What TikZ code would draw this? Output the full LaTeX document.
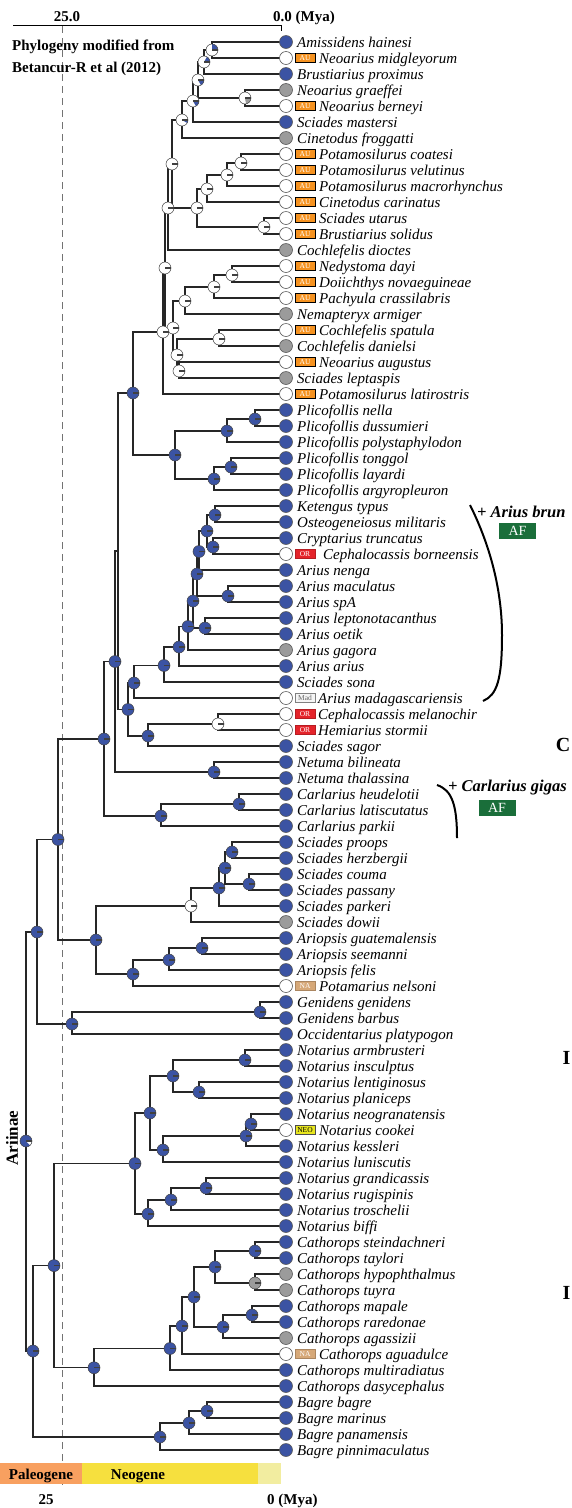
\documentclass[tikz,border=0pt]{standalone}
\usepackage{fontspec}
\setmainfont{Liberation Serif}
\pgfdeclarelayer{bg}
\pgfsetlayers{bg,main}
\definecolor{nblue}{RGB}{59,83,163}
\definecolor{ngrey}{RGB}{155,155,155}
\definecolor{auorange}{RGB}{245,146,32}
\definecolor{orred}{RGB}{228,35,42}
\definecolor{natan}{RGB}{214,168,120}
\definecolor{neoyel}{RGB}{232,230,30}
\definecolor{afgreen}{RGB}{26,110,58}
\definecolor{paleo}{RGB}{248,160,96}
\definecolor{neog}{RGB}{246,224,62}
\definecolor{quat}{RGB}{242,237,160}
\tikzset{
  branch/.style={line width=1.2pt, black!85},
  tipc/.style={circle, draw=black!65, line width=0.6pt, minimum size=13pt, inner sep=0pt},
  lab/.style={anchor=base west, inner sep=0pt, font=\fontsize{15}{15}\selectfont\itshape},
  inb/.style={circle, draw=black!75, line width=0.5pt, minimum size=12pt, inner sep=0pt},
  radline/.style={path picture={\draw[line width=1.1pt] (path picture bounding box.center) -- ++(6pt,0pt);}},
  iB/.style={inb, fill=nblue, radline},
  iW/.style={inb, fill=white, radline},
  iG/.style={inb, fill=ngrey, radline},
  pieW/.style n args={4}{inb, fill=#1, path picture={\fill[#2] (path picture bounding box.center) -- ++(#3:7pt) arc[start angle=#3, end angle=#4, radius=7pt] -- cycle; \draw[line width=1.1pt] (path picture bounding box.center) -- ++(6pt,0pt);}},
  tagb/.style={rectangle, minimum width=20pt, minimum height=9pt, inner sep=0pt, line width=0.5pt, font=\fontsize{7.5}{7.5}\selectfont},
  tagAU/.style={tagb, fill=auorange, draw=black, text=white},
  tagOR/.style={tagb, fill=orred, draw=orred!80!black, text=white},
  tagMad/.style={tagb, fill=black!4, draw=black!50, text=black!60},
  tagNA/.style={tagb, fill=natan, draw=natan!80!black, text=white},
  tagNEO/.style={tagb, fill=neoyel, draw=black!70, text=black},
  boldtxt/.style={inner sep=0pt, font=\bfseries\fontsize{15}{15}\selectfont},
  afbox/.style={rectangle, fill=afgreen, text=white, minimum width=37pt, minimum height=16pt, inner sep=0pt, font=\fontsize{14}{14}\selectfont},
}
\newcommand{\TipP}[3]{%
  \pgfmathsetmacro{\ty}{42+16*(#1-1)}%
  \pgfmathsetmacro{\tyb}{\ty+5}%
  \node[tipc,fill=#2] (t#1) at (286,\ty) {};%
  \node[lab] (l#1) at (297,\tyb) {#3};%
}
\newcommand{\TipT}[6]{%
  \pgfmathsetmacro{\ty}{42+16*(#1-1)}%
  \pgfmathsetmacro{\tyb}{\ty+5}%
  \node[tipc,fill=#2] (t#1) at (286,\ty) {};%
  \node[#3] (g#1) at (305,\ty) {#4};%
  \node[lab] (l#1) at (#5,\tyb) {#6};%
}
\newcommand{\Edge}[3]{\draw[branch] (#1.center) |- (#2.center); \draw[branch] (#1.center) |- (#3.center);}
\begin{document}
\begin{tikzpicture}[x=1pt,y=-1pt]
\useasboundingbox (0,0) rectangle (571,1508);
% ---------- tips ----------
\TipP{1}{nblue}{Amissidens hainesi}
\TipT{2}{white}{tagAU}{AU}{319}{Neoarius midgleyorum}
\TipP{3}{nblue}{Brustiarius proximus}
\TipP{4}{ngrey}{Neoarius graeffei}
\TipT{5}{white}{tagAU}{AU}{319}{Neoarius berneyi}
\TipP{6}{nblue}{Sciades mastersi}
\TipP{7}{ngrey}{Cinetodus froggatti}
\TipT{8}{white}{tagAU}{AU}{319}{Potamosilurus coatesi}
\TipT{9}{white}{tagAU}{AU}{319}{Potamosilurus velutinus}
\TipT{10}{white}{tagAU}{AU}{319}{Potamosilurus macrorhynchus}
\TipT{11}{white}{tagAU}{AU}{319}{Cinetodus carinatus}
\TipT{12}{white}{tagAU}{AU}{319}{Sciades utarus}
\TipT{13}{white}{tagAU}{AU}{319}{Brustiarius solidus}
\TipP{14}{ngrey}{Cochlefelis dioctes}
\TipT{15}{white}{tagAU}{AU}{319}{Nedystoma dayi}
\TipT{16}{white}{tagAU}{AU}{319}{Doiichthys novaeguineae}
\TipT{17}{white}{tagAU}{AU}{319}{Pachyula crassilabris}
\TipP{18}{ngrey}{Nemapteryx armiger}
\TipT{19}{white}{tagAU}{AU}{319}{Cochlefelis spatula}
\TipP{20}{ngrey}{Cochlefelis danielsi}
\TipT{21}{white}{tagAU}{AU}{319}{Neoarius augustus}
\TipP{22}{ngrey}{Sciades leptaspis}
\TipT{23}{white}{tagAU}{AU}{319}{Potamosilurus latirostris}
\TipP{24}{nblue}{Plicofollis nella}
\TipP{25}{nblue}{Plicofollis dussumieri}
\TipP{26}{nblue}{Plicofollis polystaphylodon}
\TipP{27}{nblue}{Plicofollis tonggol}
\TipP{28}{nblue}{Plicofollis layardi}
\TipP{29}{nblue}{Plicofollis argyropleuron}
\TipP{30}{nblue}{Ketengus typus}
\TipP{31}{nblue}{Osteogeneiosus militaris}
\TipP{32}{nblue}{Cryptarius truncatus}
\TipT{33}{white}{tagOR}{OR}{323}{Cephalocassis borneensis}
\TipP{34}{nblue}{Arius nenga}
\TipP{35}{nblue}{Arius maculatus}
\TipP{36}{nblue}{Arius spA}
\TipP{37}{nblue}{Arius leptonotacanthus}
\TipP{38}{nblue}{Arius oetik}
\TipP{39}{ngrey}{Arius gagora}
\TipP{40}{nblue}{Arius arius}
\TipP{41}{nblue}{Sciades sona}
\TipT{42}{white}{tagMad}{Mad}{318}{Arius madagascariensis}
\TipT{43}{white}{tagOR}{OR}{318}{Cephalocassis melanochir}
\TipT{44}{white}{tagOR}{OR}{318}{Hemiarius stormii}
\TipP{45}{nblue}{Sciades sagor}
\TipP{46}{nblue}{Netuma bilineata}
\TipP{47}{nblue}{Netuma thalassina}
\TipP{48}{nblue}{Carlarius heudelotii}
\TipP{49}{nblue}{Carlarius latiscutatus}
\TipP{50}{nblue}{Carlarius parkii}
\TipP{51}{nblue}{Sciades proops}
\TipP{52}{nblue}{Sciades herzbergii}
\TipP{53}{nblue}{Sciades couma}
\TipP{54}{nblue}{Sciades passany}
\TipP{55}{nblue}{Sciades parkeri}
\TipP{56}{ngrey}{Sciades dowii}
\TipP{57}{nblue}{Ariopsis guatemalensis}
\TipP{58}{nblue}{Ariopsis seemanni}
\TipP{59}{nblue}{Ariopsis felis}
\TipT{60}{white}{tagNA}{NA}{319}{Potamarius nelsoni}
\TipP{61}{nblue}{Genidens genidens}
\TipP{62}{nblue}{Genidens barbus}
\TipP{63}{nblue}{Occidentarius platypogon}
\TipP{64}{nblue}{Notarius armbrusteri}
\TipP{65}{nblue}{Notarius insculptus}
\TipP{66}{nblue}{Notarius lentiginosus}
\TipP{67}{nblue}{Notarius planiceps}
\TipP{68}{nblue}{Notarius neogranatensis}
\TipT{69}{white}{tagNEO}{NEO}{319}{Notarius cookei}
\TipP{70}{nblue}{Notarius kessleri}
\TipP{71}{nblue}{Notarius luniscutis}
\TipP{72}{nblue}{Notarius grandicassis}
\TipP{73}{nblue}{Notarius rugispinis}
\TipP{74}{nblue}{Notarius troschelii}
\TipP{75}{nblue}{Notarius biffi}
\TipP{76}{nblue}{Cathorops steindachneri}
\TipP{77}{nblue}{Cathorops taylori}
\TipP{78}{ngrey}{Cathorops hypophthalmus}
\TipP{79}{ngrey}{Cathorops tuyra}
\TipP{80}{nblue}{Cathorops mapale}
\TipP{81}{nblue}{Cathorops raredonae}
\TipP{82}{ngrey}{Cathorops agassizii}
\TipT{83}{white}{tagNA}{NA}{319}{Cathorops aguadulce}
\TipP{84}{nblue}{Cathorops multiradiatus}
\TipP{85}{nblue}{Cathorops dasycephalus}
\TipP{86}{nblue}{Bagre bagre}
\TipP{87}{nblue}{Bagre marinus}
\TipP{88}{nblue}{Bagre panamensis}
\TipP{89}{nblue}{Bagre pinnimaculatus}
% ---------- internal nodes ----------
\node[pieW={white}{nblue}{0}{90}] (a1) at (212,50) {};
\node[pieW={white}{nblue}{0}{60}] (a2) at (204,62) {};
\node[pieW={white}{ngrey}{-80}{0}] (a45) at (245,98) {};
\node[pieW={white}{nblue}{-60}{0}] (a3) at (198,80) {};
\node[pieW={white}{nblue}{-60}{0}] (a4) at (193,101) {};
\node[pieW={white}{nblue}{-30}{0}] (a5) at (182,120) {};
\node[iW] (b1) at (241,163) {};
\node[iW] (b2) at (227,175) {};
\node[iW] (b3) at (207,189) {};
\node[iW] (b4) at (264,227) {};
\node[iW] (b5) at (197,208) {};
\node[iW] (a6) at (172,164) {};
\node[iW] (a7) at (168,208) {};
\node[iW] (c1) at (232,275) {};
\node[iW] (c2) at (214,287) {};
\node[iW] (c3) at (185,301) {};
\node[iW] (c4) at (219,339) {};
\node[iW] (c6) at (179,371) {};
\node[iW] (c5) at (177,355) {};
\node[iW] (cH) at (173,328) {};
\node[iW] (cI) at (165,268) {};
\node[iW] (cJ) at (163,332) {};
\node[iB] (p1) at (255,419) {};
\node[iB] (p2) at (227,431) {};
\node[iB] (p3) at (231,467) {};
\node[iB] (p4) at (214,479) {};
\node[iB] (p5) at (175,455) {};
\node[iB] (K) at (133,393) {};
\node[iB] (r1) at (215,515) {};
\node[iB] (r2) at (213,547) {};
\node[iB] (r3) at (207,531) {};
\node[iB] (r4) at (199,551.5) {};
\node[iB] (r5) at (228,596) {};
\node[iB] (r6) at (197,574) {};
\node[iB] (r7) at (205,628) {};
\node[iB] (r8) at (193,601) {};
\node[iB] (r9) at (188,626.5) {};
\node[iB] (r10) at (179,647) {};
\node[iB] (r11) at (164,665.5) {};
\node[iB] (r12) at (134,683) {};
\node[iW] (r13) at (218,724) {};
\node[iB] (r14) at (148,736) {};
\node[iB] (r15) at (128,709.5) {};
\coordinate (nN) at (118,551);
\node[iB] (nt) at (214,772) {};
\node[iB] (M) at (115,661.5) {};
\node[iB] (k1) at (239,804) {};
\node[iB] (k2) at (161,816) {};
\node[iB] (O) at (104,739) {};
\node[iB] (s1) at (232,852) {};
\node[iB] (s2) at (249,884) {};
\node[iB] (s3) at (225,868) {};
\node[iB] (s4) at (219,888) {};
\node[iW] (s5) at (191,906) {};
\node[iB] (o1) at (202,948) {};
\node[iB] (o2) at (169,960) {};
\node[iB] (o3) at (133,974) {};
\node[iB] (P) at (96,940) {};
\node[iB] (Q) at (58,839.5) {};
\node[iB] (g1) at (260,1012) {};
\node[iB] (g2) at (72,1024) {};
\node[iB] (R) at (37,932) {};
\node[iB] (n1) at (245,1060) {};
\node[iB] (n2) at (199,1092) {};
\node[iB] (n3) at (173,1076) {};
\node[iB] (n4) at (251,1124) {};
\node[iB] (n5) at (246,1136) {};
\node[iB] (n6) at (163,1150) {};
\node[iB] (n7) at (150,1113) {};
\node[iB] (n8) at (206,1188) {};
\node[iB] (n9) at (171,1200) {};
\node[iB] (n10) at (148,1214) {};
\node[iB] (n11) at (135,1163.5) {};
\node[iB] (h1) at (255,1251) {};
\node[iG] (h2) at (255,1283) {};
\node[iB] (h3) at (215,1267) {};
\node[iB] (h4) at (252,1315) {};
\node[iB] (h5) at (223,1327) {};
\node[iB] (h6) at (194,1297) {};
\node[iB] (h7) at (182,1326) {};
\node[iB] (h8) at (170,1348.5) {};
\node[iB] (h9) at (94,1367.75) {};
\node[iB] (U) at (54,1265.6) {};
\node[iB] (bg1) at (207,1411) {};
\node[iB] (bg2) at (189,1423) {};
\node[iB] (bg3) at (160,1437) {};
\node[iB] (T) at (33,1351) {};
\node[pieW={nblue}{white}{-45}{0}] (S) at (26,1141) {};
% ---------- branches ----------
\begin{pgfonlayer}{bg}
\draw[black!55, line width=1pt, dash pattern=on 7pt off 5pt] (62,26) -- (62,1488);
\Edge{a1}{t1}{t2}
\Edge{a2}{a1}{t3}
\Edge{a45}{t4}{t5}
\Edge{a3}{a2}{a45}
\Edge{a4}{a3}{t6}
\Edge{a5}{a4}{t7}
\Edge{b1}{t8}{t9}
\Edge{b2}{b1}{t10}
\Edge{b3}{b2}{t11}
\Edge{b4}{t12}{t13}
\Edge{b5}{b3}{b4}
\Edge{a6}{a5}{b5}
\Edge{a7}{a6}{t14}
\Edge{c1}{t15}{t16}
\Edge{c2}{c1}{t17}
\Edge{c3}{c2}{t18}
\Edge{c4}{t19}{t20}
\Edge{c6}{t21}{t22}
\Edge{c5}{c4}{c6}
\Edge{cH}{c3}{c5}
\Edge{cI}{a7}{cH}
\Edge{cJ}{cI}{t23}
\Edge{p1}{t24}{t25}
\Edge{p2}{p1}{t26}
\Edge{p3}{t27}{t28}
\Edge{p4}{p3}{t29}
\Edge{p5}{p2}{p4}
\Edge{K}{cJ}{p5}
\Edge{r1}{t30}{t31}
\Edge{r2}{t32}{t33}
\Edge{r3}{r1}{r2}
\Edge{r4}{r3}{t34}
\Edge{r5}{t35}{t36}
\Edge{r6}{r4}{r5}
\Edge{r7}{t37}{t38}
\Edge{r8}{r6}{r7}
\Edge{r9}{r8}{t39}
\Edge{r10}{r9}{t40}
\Edge{r11}{r10}{t41}
\Edge{r12}{r11}{t42}
\Edge{r13}{t43}{t44}
\Edge{r14}{r13}{t45}
\Edge{r15}{r12}{r14}
\Edge{nN}{K}{r15}
\Edge{nt}{t46}{t47}
\Edge{M}{nN}{nt}
\Edge{k1}{t48}{t49}
\Edge{k2}{k1}{t50}
\Edge{O}{M}{k2}
\Edge{s1}{t51}{t52}
\Edge{s2}{t53}{t54}
\Edge{s3}{s1}{s2}
\Edge{s4}{s3}{t55}
\Edge{s5}{s4}{t56}
\Edge{o1}{t57}{t58}
\Edge{o2}{o1}{t59}
\Edge{o3}{o2}{t60}
\Edge{P}{s5}{o3}
\Edge{Q}{O}{P}
\Edge{g1}{t61}{t62}
\Edge{g2}{g1}{t63}
\Edge{R}{Q}{g2}
\Edge{n1}{t64}{t65}
\Edge{n2}{t66}{t67}
\Edge{n3}{n1}{n2}
\Edge{n4}{t68}{t69}
\Edge{n5}{n4}{t70}
\Edge{n6}{n5}{t71}
\Edge{n7}{n3}{n6}
\Edge{n8}{t72}{t73}
\Edge{n9}{n8}{t74}
\Edge{n10}{n9}{t75}
\Edge{n11}{n7}{n10}
\Edge{h1}{t76}{t77}
\Edge{h2}{t78}{t79}
\Edge{h3}{h1}{h2}
\Edge{h4}{t80}{t81}
\Edge{h5}{h4}{t82}
\Edge{h6}{h3}{h5}
\Edge{h7}{h6}{t83}
\Edge{h8}{h7}{t84}
\Edge{h9}{h8}{t85}
\Edge{U}{n11}{h9}
\Edge{bg1}{t86}{t87}
\Edge{bg2}{bg1}{t88}
\Edge{bg3}{bg2}{t89}
\Edge{T}{U}{bg3}
\Edge{S}{R}{T}
\end{pgfonlayer}
% ---------- top axis and header ----------
\coordinate (ax0) at (13,25);
\coordinate (ax1) at (281,25);
\draw[line width=1pt] (ax0) -- (ax1);
\draw[line width=1pt] (ax1) -- ++(0,6);
\node[boldtxt, anchor=base] (h25) at (67,21) {25.0};
\node[boldtxt, anchor=base west] (h00) at (273,21) {0.0 (Mya)};
\node[boldtxt, anchor=base west] (src1) at (12,50) {Phylogeny modified from};
\node[boldtxt, anchor=base west] (src2) at (12,72) {Betancur-R et al (2012)};
\node[rotate=90, inner sep=0pt, font=\bfseries\fontsize{17}{17}\selectfont] (ari) at (12,1138) {Ariinae};
% ---------- bottom time bar ----------
\fill[paleo] (0,1463) rectangle (82,1484);
\fill[neog] (82,1463) rectangle (258,1484);
\fill[quat] (258,1463) rectangle (281,1484);
\node[boldtxt, anchor=base] (pal) at (41,1479) {Paleogene};
\node[boldtxt, anchor=base] (neo) at (138,1479) {Neogene};
\node[boldtxt, anchor=base] (b25) at (46,1504) {25};
\node[boldtxt, anchor=base west] (b00) at (267,1504) {0 (Mya)};
% ---------- right annotations ----------
\node[anchor=base west, inner sep=0pt, font=\bfseries\itshape\fontsize{16.5}{16.5}\selectfont] (abr) at (477,517) {+ Arius brun};
\node[afbox] (af1) at (517.5,531) {AF};
\coordinate (br1a) at (470,505);
\coordinate (br1m) at (502,635);
\coordinate (br1b) at (483,701);
\draw[line width=2pt] (br1a) .. controls (490,545) and (502,590) .. (br1m) .. controls (502,680) and (497,695) .. (br1b);
\node[anchor=base west, inner sep=0pt, font=\bfseries\itshape\fontsize{16.5}{16.5}\selectfont] (cgi) at (448,791) {+ Carlarius gigas};
\node[afbox] (af2) at (497,807.5) {AF};
\coordinate (br2a) at (437,785);
\coordinate (br2b) at (457,838);
\draw[line width=2pt] (br2a) .. controls (452,790) and (457,805) .. (br2b);
\node[anchor=east, inner sep=0pt, font=\bfseries\fontsize{20}{20}\selectfont] (pc) at (570.5,745) {C};
\node[anchor=east, inner sep=0pt, font=\bfseries\fontsize{20}{20}\selectfont] (pi1) at (570.5,1058) {I};
\node[anchor=east, inner sep=0pt, font=\bfseries\fontsize{20}{20}\selectfont] (pi2) at (570.5,1293) {I};
\end{tikzpicture}
\end{document}
